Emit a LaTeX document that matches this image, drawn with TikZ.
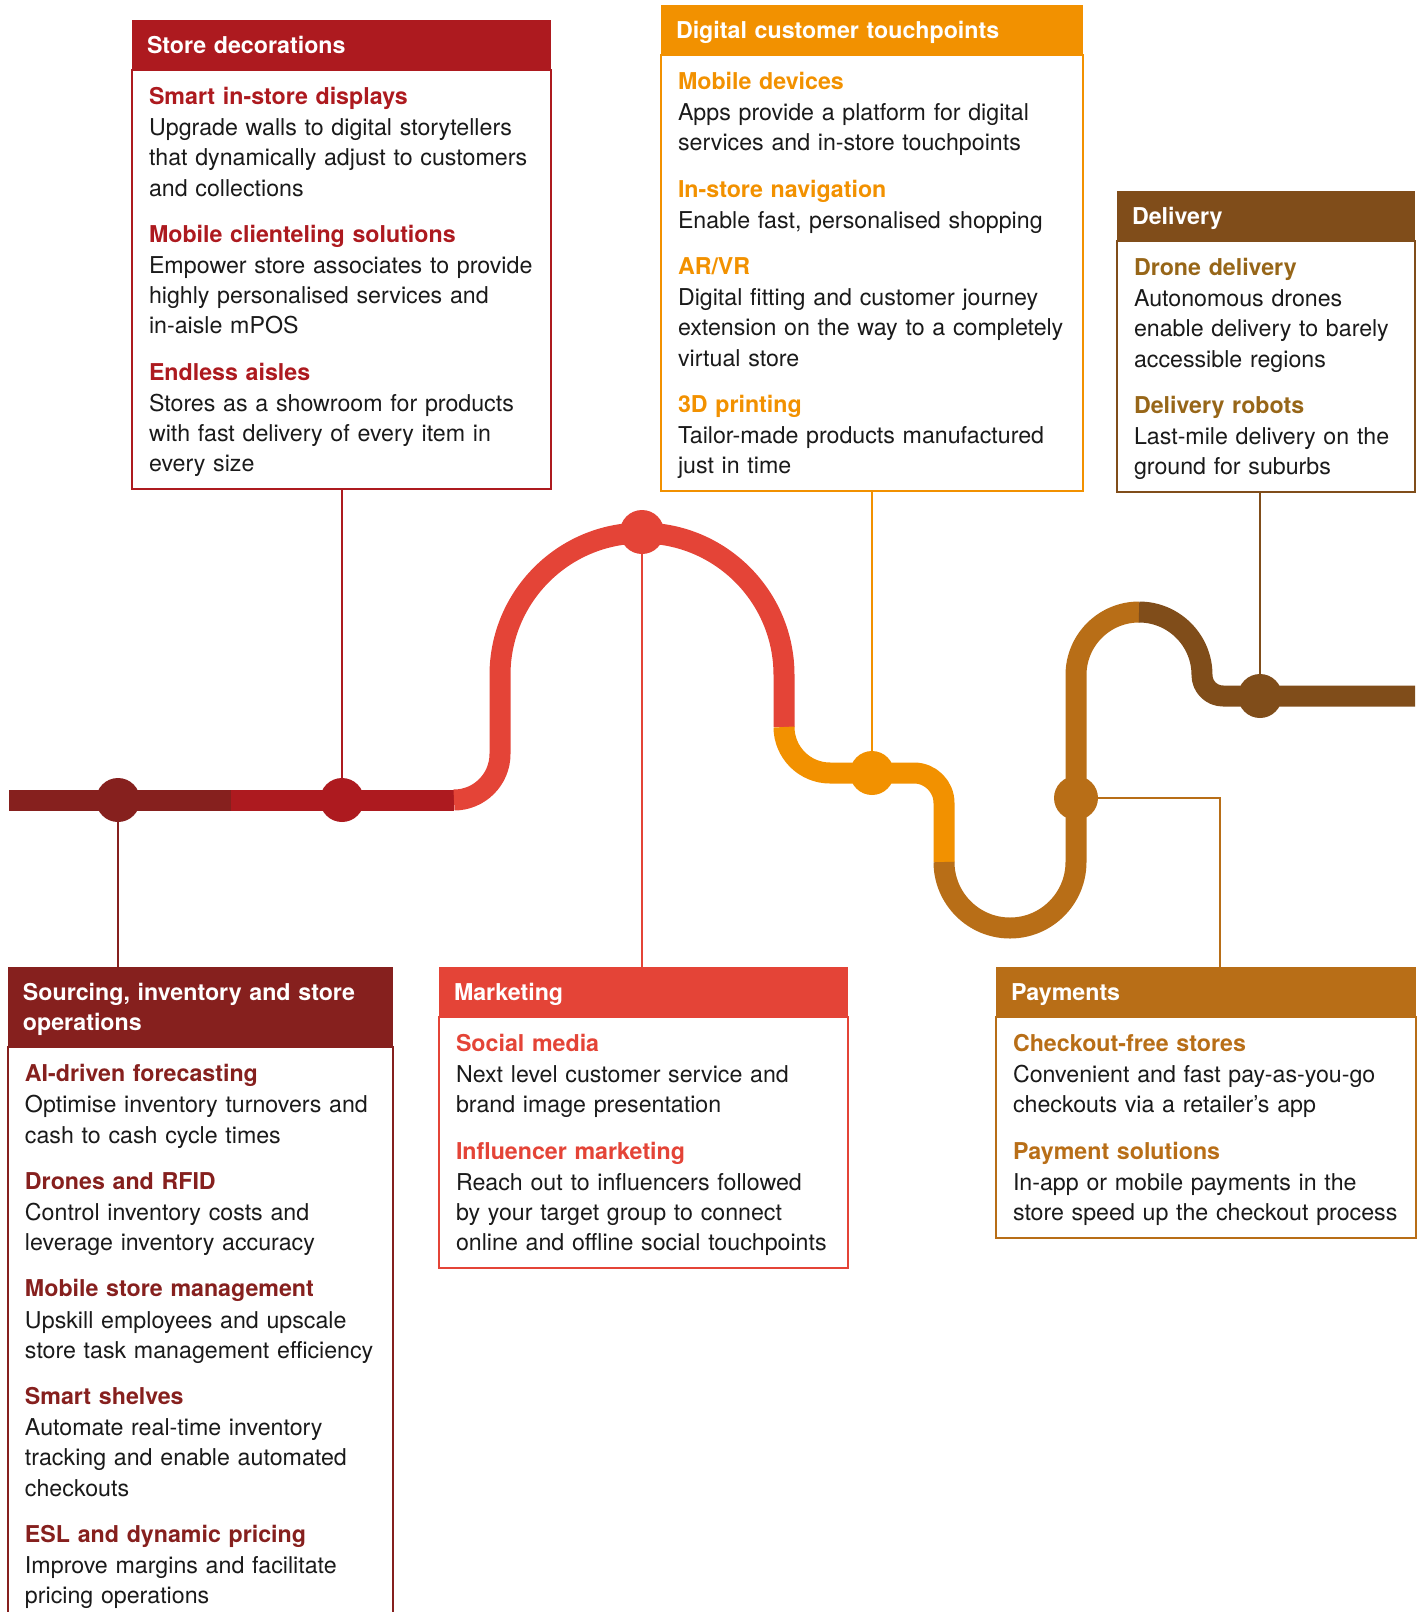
\documentclass[tikz,border=0pt]{standalone}
\usepackage{fontspec}
\setmainfont{TeX Gyre Heros}
\usetikzlibrary{positioning}

\definecolor{srcred}{RGB}{134,32,30}
\definecolor{decred}{RGB}{173,26,31}
\definecolor{mktred}{RGB}{228,68,55}
\definecolor{digorange}{RGB}{242,145,0}
\definecolor{paybrown}{RGB}{184,110,23}
\definecolor{delbrown}{RGB}{128,77,26}
\definecolor{delgold}{RGB}{151,102,24}
\definecolor{ink}{RGB}{26,26,26}

\newcommand{\txtfont}{\fontsize{11.6pt}{15.1pt}\selectfont}
\newcommand{\hdin}[1]{\rule{0pt}{16.5pt}#1\rule[-8.5pt]{0pt}{0pt}}
% lines may run a little into the right margin instead of wrapping
\newcommand{\bdin}[1]{\rightskip=-15pt plus 1fil\hyphenpenalty=10000\exhyphenpenalty=10000\relax
    \rule{0pt}{17.25pt}#1\rule[-8.5pt]{0pt}{0pt}\par}
\newcommand{\itm}[2]{{\bfseries\color{sub}#1}\\[0.5pt]#2}

\tikzset{
    track/.style={draw=#1, line width=10.5pt, line join=round},
    stop/.style={circle, fill=#1, inner sep=0pt, minimum size=22pt},
    link/.style={draw=#1, line width=1pt},
    head/.style={fill=#1, text=white, font=\txtfont\bfseries, inner xsep=7.5pt,
        inner ysep=0pt, outer sep=0pt, anchor=north west, align=left},
    body/.style={draw=#1, line width=1pt, text=ink, font=\txtfont, inner xsep=8.5pt,
        inner ysep=0pt, outer sep=0pt, align=left,
        execute at begin node=\colorlet{sub}{#1}},
}

\begin{document}
\begin{tikzpicture}[x=0.5pt,y=-0.5pt]
    \useasboundingbox (0,0) rectangle (1423,1612);
    % the track
    \draw[track=srcred] (9,800) -- (231,800);
    \draw[track=decred] (231,800) -- (454,800);
    \draw[track=mktred] (454,800) arc[start angle=90,end angle=0,radius=46] -- (500,675)
        arc[start angle=180,end angle=360,radius=142] -- (784,727);
    \draw[track=digorange] (784,727) arc[start angle=180,end angle=90,radius=46] -- (914,773)
        arc[start angle=270,end angle=360,radius=30] -- (944,862);
    \draw[track=paybrown] (944,862) arc[start angle=180,end angle=0,radius=66] -- (1076,675)
        arc[start angle=180,end angle=270,radius=63];
    \draw[track=delbrown] (1139,612) arc[start angle=270,end angle=360,radius=63]
        arc[start angle=180,end angle=90,radius=21] -- (1415,696);

    \node[stop=srcred] (srcStop) at (118,800) {};
    \node[stop=decred] (decStop) at (342,800) {};
    \node[stop=mktred] (mktStop) at (642,532) {};
    \node[stop=digorange] (digStop) at (872,773) {};
    \node[stop=paybrown] (payStop) at (1076,798) {};
    \node[stop=delbrown] (delStop) at (1260,696) {};

    % top row
    \node[head=decred, text width=194.5pt] (decHead) at (132,20) {\hdin{Store decorations}};
    \node[body=decred, text width=192.5pt, below=0pt of decHead] (decBody) {\bdin{%
        \itm{Smart in-store displays}{Upgrade walls to digital storytellers\\that dynamically adjust to customers\\and collections}\\[8pt]
        \itm{Mobile clienteling solutions}{Empower store associates to provide\\highly personalised services and\\in-aisle mPOS}\\[8pt]
        \itm{Endless aisles}{Stores as a showroom for products\\with fast delivery of every item in\\every size}}};

    \node[head=digorange, text width=196pt] (digHead) at (661,5) {\hdin{Digital customer touchpoints}};
    \node[body=digorange, text width=194pt, below=0pt of digHead] (digBody) {\bdin{%
        \itm{Mobile devices}{Apps provide a platform for digital\\services and in-store touchpoints}\\[8pt]
        \itm{In-store navigation}{Enable fast, personalised shopping}\\[8pt]
        \itm{AR/VR}{Digital fitting and customer journey\\extension on the way to a completely\\virtual store}\\[8pt]
        \itm{3D printing}{Tailor-made products manufactured\\just in time}}};

    \node[head=delbrown, text width=134pt] (delHead) at (1117,191) {\hdin{Delivery}};
    \node[body=delbrown, text width=132pt, below=0pt of delHead,
        execute at begin node=\colorlet{sub}{delgold}] (delBody) {\bdin{%
        \itm{Drone delivery}{Autonomous drones\\enable delivery to barely\\accessible regions}\\[8pt]
        \itm{Delivery robots}{Last-mile delivery on the\\ground for suburbs}}};

    % bottom row
    \node[head=srcred, text width=177.5pt] (srcHead) at (8,967) {\hdin{Sourcing, inventory and store\\operations}};
    \node[body=srcred, text width=175.5pt, below=0pt of srcHead] (srcBody) {\bdin{%
        \itm{AI-driven forecasting}{Optimise inventory turnovers and\\cash to cash cycle times}\\[8pt]
        \itm{Drones and RFID}{Control inventory costs and\\leverage inventory accuracy}\\[8pt]
        \itm{Mobile store management}{Upskill employees and upscale\\store task management efficiency}\\[8pt]
        \itm{Smart shelves}{Automate real-time inventory\\tracking and enable automated\\checkouts}\\[8pt]
        \itm{ESL and dynamic pricing}{Improve margins and facilitate\\pricing operations}}};

    \node[head=mktred, text width=189.5pt] (mktHead) at (439,967) {\hdin{Marketing}};
    \node[body=mktred, text width=187.5pt, below=0pt of mktHead] (mktBody) {\bdin{%
        \itm{Social media}{Next level customer service and\\brand image presentation}\\[8pt]
        \itm{Influencer marketing}{Reach out to influencers followed\\by your target group to connect\\online and offline social touchpoints}}};

    \node[head=paybrown, text width=195pt] (payHead) at (996,967) {\hdin{Payments}};
    \node[body=paybrown, text width=193pt, below=0pt of payHead] (payBody) {\bdin{%
        \itm{Checkout-free stores}{Convenient and fast pay-as-you-go\\checkouts via a retailer’s app}\\[8pt]
        \itm{Payment solutions}{In-app or mobile payments in the\\store speed up the checkout process}}};

    % links from the stops
    \coordinate (payBend) at (1220,798);
    \draw[link=srcred] (srcStop) -- (srcStop |- srcHead.north);
    \draw[link=decred] (decStop) -- (decStop |- decBody.south);
    \draw[link=mktred] (mktStop) -- (mktStop |- mktHead.north);
    \draw[link=digorange] (digStop) -- (digStop |- digBody.south);
    \draw[link=paybrown] (payStop) -- (payBend) -- (payBend |- payHead.north);
    \draw[link=delbrown] (delStop) -- (delStop |- delBody.south);
\end{tikzpicture}
\end{document}
